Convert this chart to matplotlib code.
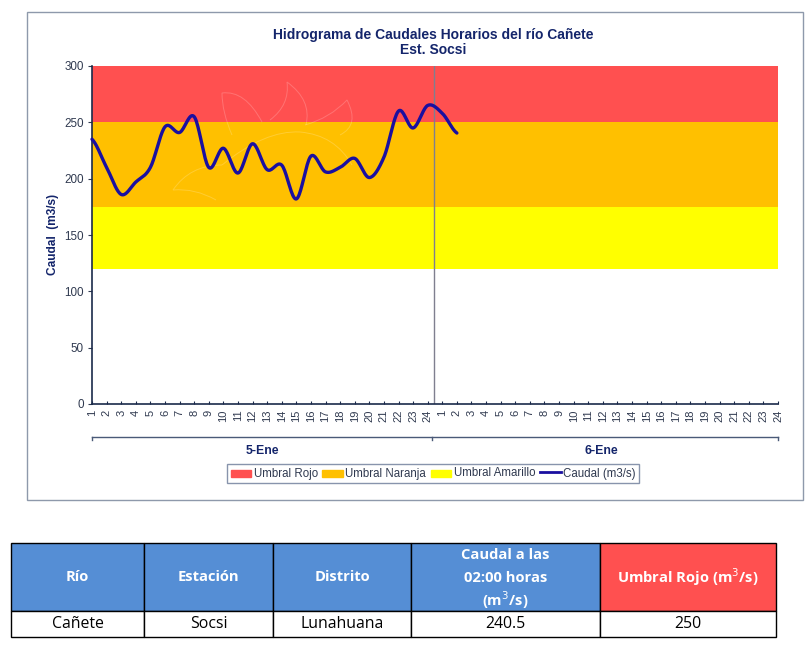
import numpy as np
import matplotlib
matplotlib.use("Agg")
import matplotlib.pyplot as plt
from matplotlib.patches import Rectangle, Patch, PathPatch
from matplotlib.path import Path
from matplotlib.lines import Line2D
from matplotlib.table import Table

W, H = 812, 645
hour_labels = [str(h) for h in range(1, 25)] * 2
caudal = [235, 210, 186, 197, 210, 246, 241, 255, 210, 227, 205, 231, 208,
          212, 182, 220, 206, 210, 218, 201, 219, 260, 245, 265, 258, 240.5]
umbral_amarillo = 120
umbral_naranja = 175
umbral_rojo = 250
y_max = 300
y_ticks = [0, 50, 100, 150, 200, 250, 300]
day_labels = ["5-Ene", "6-Ene"]
title_lines = "Hidrograma de Caudales Horarios del río Cañete\nEst. Socsi"
legend_labels = ["Umbral Rojo", "Umbral Naranja", "Umbral Amarillo", "Caudal (m3/s)"]
table_header = ["Río", "Estación", "Distrito", "", "Umbral Rojo (m$^{3}$/s)"]
caudal_header_lines = ["Caudal a las", "02:00 horas", "(m$^{3}$/s)"]
table_row = ["Cañete", "Socsi", "Lunahuana", "240.5", "250"]

NAVY = "#14256b"
RED, ORANGE, YELLOW = "#ff5050", "#ffc000", "#ffff00"
BLUE = "#558ed5"
LINE = "#1a0fa0"
GREY = "#8e99ab"

def px_axes(fig, x0, y0, x1, y1):
    return fig.add_axes([x0 / W, 1 - y1 / H, (x1 - x0) / W, (y1 - y0) / H])

def smooth(y, n=20):
    """Catmull-Rom curve through the points, as a spreadsheet's smoothed line."""
    y = np.asarray(y, float)
    p = np.r_[y[0], y, y[-1]]
    xs, ys = [], []
    for i in range(len(y) - 1):
        t = np.linspace(0, 1, n, endpoint=False)
        a, b, c, d = p[i], p[i + 1], p[i + 2], p[i + 3]
        ys.append(0.5 * (2 * b + (c - a) * t + (2 * a - 5 * b + 4 * c - d) * t**2
                         + (3 * b - a - 3 * c + d) * t**3))
        xs.append(i + t)
    return np.r_[np.concatenate(xs), len(y) - 1], np.r_[np.concatenate(ys), y[-1]]

fig = plt.figure(figsize=(W / 100, H / 100), dpi=100, facecolor="white")
plt.rcParams["font.family"] = ["Liberation Sans", "DejaVu Sans"]

bg = fig.add_axes([0, 0, 1, 1])
bg.set_xlim(0, W); bg.set_ylim(H, 0); bg.axis("off")
bg.add_patch(Rectangle((27, 12), 776, 488, fc="white", ec=GREY, lw=1.0))

ax = px_axes(fig, 92, 66, 778, 404)
n_hours = len(hour_labels)
ax.set_xlim(0, n_hours - 1)
ax.set_ylim(0, y_max)
ax.axhspan(umbral_rojo, y_max, color=RED, lw=0)
ax.axhspan(umbral_naranja, umbral_rojo, color=ORANGE, lw=0)
ax.axhspan(umbral_amarillo, umbral_naranja, color=YELLOW, lw=0)

# Faint watermark petals behind the line (figure-pixel outlines, not data)
petals = [
    [(232, 135), (222, 112), (222, 93), (245, 90), (262, 122)],
    [(270, 120), (290, 105), (287, 82), (312, 100), (306, 125)],
    [(305, 125), (330, 118), (347, 100), (360, 125), (340, 135)],
    [(216, 200), (195, 188), (173, 190), (190, 165), (222, 165)],
    [(222, 165), (265, 130), (300, 132), (335, 135), (352, 165)],
]
codes = [Path.MOVETO, Path.CURVE3, Path.CURVE3, Path.CURVE3, Path.CURVE3]
for pts in petals:
    ax.add_patch(PathPatch(Path(pts, codes), fc="none", ec="white", lw=0.7, alpha=0.2,
                           transform=bg.transData, zorder=1.5))

ax.axvline(23.4, color="#7f7f8f", lw=1.0)
sx, sy = smooth(caudal)
ax.plot(sx, sy, color=LINE, lw=2.4, solid_capstyle="round", clip_on=False, zorder=3)

for s in ("top", "right"):
    ax.spines[s].set_visible(False)
ax.spines["left"].set_color("#1a2a4a")
ax.spines["bottom"].set_color("#1a2a4a")
ax.spines["left"].set_linewidth(1.2)
ax.spines["bottom"].set_linewidth(1.2)
ax.set_yticks(y_ticks)
ax.set_xticks(range(n_hours))
ax.set_xticklabels(hour_labels, rotation=90, fontsize=8, color="#303a50")
ax.tick_params(axis="y", labelsize=8.4, colors="#303a50", length=3, direction="out", pad=3)
ax.tick_params(axis="x", length=2.5, direction="in", pad=4, color="#1a2a4a")
bg.text(53, 234, "Caudal  (m3/s)", rotation=90, ha="center", va="center", fontsize=8.6,
        fontweight="bold", color=NAVY)

bg.text(433, 42.5, title_lines, ha="center", va="center", fontsize=10, fontweight="bold",
        color=NAVY, linespacing=1.12)

# Day grouping axis
bg.plot([92, 778], [437, 437], color="#4a5a78", lw=1)
for xp in (92, 432, 778):
    bg.plot([xp, xp], [437, 440], color="#4a5a78", lw=1)
bg.text(262, 451, day_labels[0], ha="center", va="center", fontsize=8.8, fontweight="bold", color=NAVY)
bg.text(601, 451, day_labels[1], ha="center", va="center", fontsize=8.8, fontweight="bold", color=NAVY)

handles = [Patch(color=RED), Patch(color=ORANGE), Patch(color=YELLOW), Line2D([], [], color=LINE, lw=2)]
leg = bg.legend(handles, legend_labels, ncol=4, loc="center", bbox_to_anchor=(433 / W, 1 - 473.5 / H),
                bbox_transform=fig.transFigure, fontsize=8.3, frameon=True, fancybox=False,
                edgecolor="#6a7a98", columnspacing=0.4, handlelength=1.8, handletextpad=0.2,
                borderpad=0.3, labelcolor="#303a50")
leg.get_frame().set_linewidth(1)
for h in leg.get_patches():
    h.set_height(5)
    h.set_y(-0.5)

# Table
col_edges = [11, 144, 273, 411, 600, 776]
row_edges = [543, 611, 637]
tax = fig.add_axes([0, 0, 1, 1]); tax.axis("off")
tax.set_xlim(0, W); tax.set_ylim(H, 0)
tbl = Table(tax, bbox=[col_edges[0] / W, 1 - row_edges[-1] / H,
                       (col_edges[-1] - col_edges[0]) / W, (row_edges[-1] - row_edges[0]) / H])
tbl.auto_set_font_size(False)
for c, (a, b) in enumerate(zip(col_edges[:-1], col_edges[1:])):
    w = (b - a) / W
    cell = tbl.add_cell(0, c, w, (row_edges[1] - row_edges[0]) / H, text=table_header[c], loc="center",
                        facecolor=RED if c == 4 else BLUE, edgecolor="black")
    cell.get_text().set(color="white", fontweight="bold", fontsize=10.6, family="Open Sans")
    cell = tbl.add_cell(1, c, w, (row_edges[2] - row_edges[1]) / H, text=table_row[c], loc="center",
                        facecolor="white", edgecolor="black")
    cell.get_text().set(color="black", fontsize=11.4, family="Open Sans")
tax.add_table(tbl)
for line, yp in zip(caudal_header_lines, (555, 578, 600)):
    tax.text(505.5, yp, line, ha="center", va="center", color="white", fontweight="bold",
             fontsize=10.6, family="Open Sans", zorder=5)

fig.savefig("out.png", dpi=100, facecolor="white")
